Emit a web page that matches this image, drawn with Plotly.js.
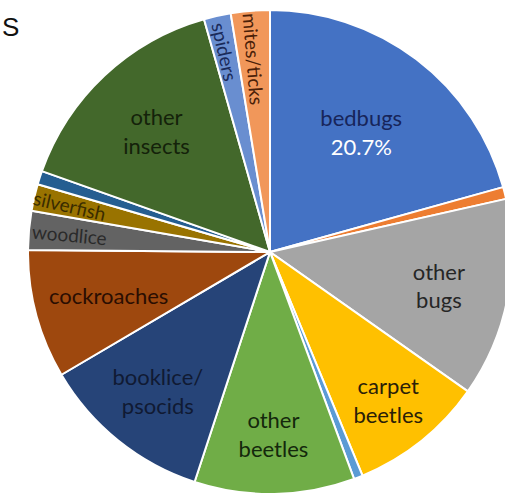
<!DOCTYPE html>
<html>
<head>
<meta charset="utf-8">
<script src="https://cdn.plot.ly/plotly-3.0.1.min.js"></script>
<style>
html,body{margin:0;padding:0;overflow:hidden;background:#fff;width:505px;height:498px;}
#chart{position:absolute;left:0;top:0;width:540px;height:504px;}
</style>
</head>
<body>
<div id="chart"></div>
<script>
// Categories in clockwise order from 12 o'clock
const categories = ["bedbugs","other (orange)","other bugs","carpet beetles","other (light blue)","other beetles","booklice/psocids","cockroaches","woodlice","silverfish","other (dark blue)","other insects","spiders","mites/ticks"];
// Shares in percent
const shares = [20.7, 0.8, 13.3, 9.0, 0.6, 10.7, 11.5, 8.6, 2.6, 1.8, 0.9, 15.2, 1.8, 2.6];
// Labels drawn by the pie itself
const sliceLabels = ["bedbugs","","other<br>bugs","carpet<br>beetles","","other<br>beetles","booklice/<br>psocids","","","","","other<br>insects","",""];
// Labels placed at the slice's mid-angle (narrow or wide-text slices)
const placedLabels = ["","","","","","","","cockroaches","woodlice","silverfish","","","spiders","mites/ticks"];
const placedRadial = [false,false,false,false,false,false,false,false,true,true,false,false,true,true];
const showPercent = [true,false,false,false,false,false,false,false,false,false,false,false,false,false];

const colors = ["#4472C4","#ED7D31","#A5A5A5","#FFC000","#5B9BD5","#70AD47","#264478","#9E480E","#636363","#997300","#255E91","#43682B","#698ED0","#F1975A"];
const textColors = ["#17255a","#000","#262626","#2a2008","#000","#14280c","#101a33","#2a0e02","#2a2a2a","#3a2c00","#000","#14220a","#1a2a5a","#4a2008"];
const textSizes = [22,10,22,22,10,22,22,22,19,19,10,22,19,19];
const placedPos = [0,0,0,0,0,0,0,0.69,0.83,0.85,0,0,0.85,0.80];

const W = 540, H = 504, cx = 270, cy = 252, R = 242;
const domX = [(cx - R) / W, (cx + R) / W];
const domY = [1 - (cy + R) / H, 1 - (cy - R) / H];

const tmpl1 = sliceLabels.map((t, i) => t === "" ? "" :
  (showPercent[i] ? t + "<br><span style='color:#ffffff'>%{percent:.1%}</span>" : t));

const trace1 = {
  type: "pie",
  labels: categories,
  values: shares,
  sort: false,
  direction: "clockwise",
  rotation: 0,
  domain: {x: domX, y: domY},
  marker: {colors: colors, line: {color: "#ffffff", width: 2}},
  texttemplate: tmpl1,
  textposition: "inside",
  insidetextorientation: "horizontal",
  insidetextfont: {family: "Lato, 'Open Sans', sans-serif", size: textSizes, color: textColors},
  hoverinfo: "label+percent",
  showlegend: false
};

// Placed labels: at each slice's mid-angle, derived from the data
const total = shares.reduce((a, b) => a + b, 0);
const annotations = [];
let cum = 0;
shares.forEach((v, i) => {
  const mid = (cum + v / 2) / total * 360;
  cum += v;
  if (!placedLabels[i]) return;
  const rad = mid * Math.PI / 180;
  const px = cx + Math.sin(rad) * R * placedPos[i];
  const py = cy - Math.cos(rad) * R * placedPos[i];
  let ang = placedRadial[i] ? mid - 270 : 0;
  if (ang < -180) ang += 360;
  if (ang > 180) ang -= 360;
  annotations.push({
    text: placedLabels[i], xref: "paper", yref: "paper",
    x: px / W, y: 1 - py / H, xanchor: "center", yanchor: "middle",
    textangle: ang, showarrow: false,
    font: {family: "Lato, 'Open Sans', sans-serif", size: textSizes[i], color: textColors[i]}
  });
});
annotations.push({
  text: "S", xref: "paper", yref: "paper", x: 0, y: 1 - 10 / H,
  xanchor: "left", yanchor: "top", showarrow: false,
  font: {family: "Liberation Sans, Arial, sans-serif", size: 26, color: "#111"}
});

const layout = {
  width: W, height: H,
  margin: {l: 0, r: 0, t: 0, b: 0},
  paper_bgcolor: "#ffffff",
  showlegend: false,
  annotations: annotations
};

Plotly.newPlot("chart", [trace1], layout, {displayModeBar: false, staticPlot: true});
</script>
</body>
</html>
